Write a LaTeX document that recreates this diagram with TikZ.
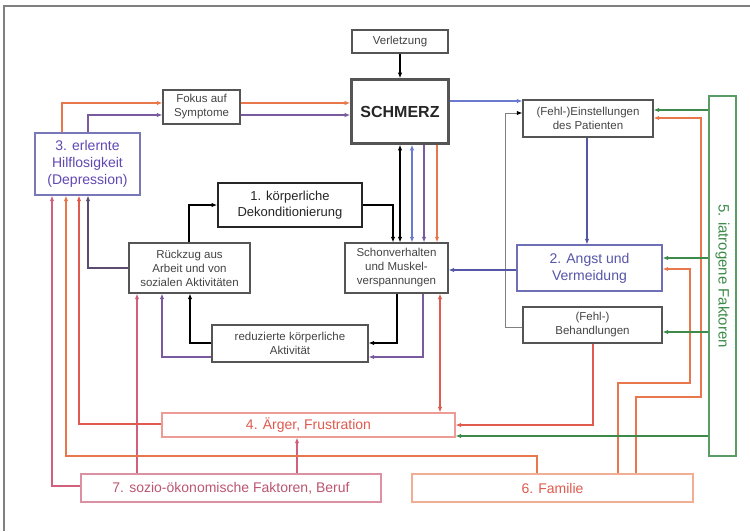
\documentclass[tikz,border=0pt]{standalone}
\usepackage{fontspec}
\setmainfont{Liberation Sans}
\usetikzlibrary{arrows.meta,calc}
\definecolor{cOr}{HTML}{E8784C}
\definecolor{cRd}{HTML}{E05A4E}
\definecolor{cPk}{HTML}{D0607C}
\definecolor{cPu}{HTML}{7A5A9E}
\definecolor{cBl}{HTML}{6A7AD0}
\definecolor{cBl2}{HTML}{5656A8}
\definecolor{cDk}{HTML}{5A4C70}
\definecolor{cGn}{HTML}{3D8A4A}
\definecolor{cBox}{HTML}{555555}
\definecolor{cTxt}{HTML}{444444}
\newcommand\myfs{\fontsize{11.5}{14}\selectfont}
\newcommand\myfb{\fontsize{14}{17}\selectfont}
\begin{document}
\begin{tikzpicture}[x=1pt,y=-1pt,
  >={Latex[length=5.5pt,width=4.5pt]},
  line width=1.2pt,
  bx/.style={draw=cBox, fill=white, line width=1.2pt, align=center, inner sep=1pt, text=cTxt, font=\myfs},
  nbx/.style={bx, font=\myfb}]
\useasboundingbox (0,0) rectangle (750,531);
\fill[white] (0,0) rectangle (750,531);
\draw[color=gray, line width=1.6pt] (4,531) -- (4,6) -- (750,6);

% nodes
\node[bx, minimum width=96pt, minimum height=23pt] (verl) at (400,41.5) {Verletzung};
\node[bx, draw=cBox, line width=2.6pt, minimum width=97pt, minimum height=64pt, text=black!85, font=\fontsize{16}{18}\selectfont\bfseries] (schm) at (400,111.5) {SCHMERZ};
\node[bx, minimum width=77pt, minimum height=34pt] (fokus) at (201.5,107) {Fokus auf\\Symptome};
\node[nbx, draw=cBl2!80, text=cPu!80!blue, minimum width=105pt, minimum height=62pt] (hilf) at (87.5,164) {3. erlernte\\Hilflosigkeit\\(Depression)};
\node[bx, draw=black!85, line width=1.8pt, text=black!85, font=\fontsize{13}{16}\selectfont, minimum width=144pt, minimum height=44pt] (dekon) at (290,205) {1. körperliche\\Dekonditionierung};
\node[bx, minimum width=121pt, minimum height=50pt] (rueck) at (189.5,268) {Rückzug aus\\Arbeit und von\\sozialen Aktivitäten};
\node[bx, minimum width=103pt, minimum height=50pt] (schon) at (396.5,268) {Schonverhalten\\und Muskel-\\verspannungen};
\node[bx, minimum width=156pt, minimum height=37pt] (redu) at (290,343.5) {reduzierte körperliche\\Aktivität};
\node[bx, minimum width=130pt, minimum height=37pt] (einst) at (588,118.5) {(Fehl-)Einstellungen\\des Patienten};
\node[nbx, draw=cBl2!85, text=cBl2, minimum width=145pt, minimum height=46pt] (angst) at (589.5,268) {2. Angst und\\Vermeidung};
\node[bx, minimum width=139pt, minimum height=36pt] (behand) at (592.5,325) {(Fehl-)\\Behandlungen};
\node[nbx, draw=cGn!85, text=cGn, minimum width=27pt, minimum height=360pt] (iatro) at (722.5,276) {};
\node[text=cGn, font=\fontsize{15}{17}\selectfont, rotate=-90] (iatrotxt) at (iatro.center) {5. iatrogene Faktoren};
\node[nbx, draw=cRd!60, text=cRd, minimum width=293pt, minimum height=24pt] (aerger) at (308.5,425) {4. Ärger, Frustration};
\node[nbx, draw=cPk!70, text=cPk!90!black, minimum width=300pt, minimum height=28pt] (sozio) at (231,488) {7. sozio-ökonomische Faktoren, Beruf};
\node[nbx, draw=cOr!60, text=cRd, minimum width=281pt, minimum height=28pt] (famil) at (552.5,488) {6. Familie};

% connectors
\draw[->, black] (verl) -- (schm);
\draw[->, cOr] (hilf.north -| 62,0) |- (fokus.west |- 0,103);
\draw[->, cPu] (hilf.north -| 88,0) |- (fokus.west |- 0,115);
\draw[->, cOr] (fokus.east |- 0,103) -- (schm.west |- 0,103);
\draw[->, cPu] (fokus.east |- 0,115) -- (schm.west |- 0,115);
\draw[->, cBl] (schm.east |- 0,101) -- (einst.west |- 0,101);
\draw[color=gray, line width=1pt, -{Latex[length=5.5pt,width=4.5pt,color=black]}] (behand.west |- 0,327) -- (505,327) |- (einst.west |- 0,113);
\draw[->, cBl2] (einst.south -| 587,0) -- (angst.north -| 587,0);
\draw[->, cBl2] (angst.west |- 0,270) -- (schon.east |- 0,270);
\draw[<->, black] (schm.south -| 400,0) -- (schon.north -| 400,0);
\draw[->, black] (dekon.east) -| (schon.north -| 393,0);
\draw[<->, cBl] (schm.south -| 412,0) -- (schon.north -| 412,0);
\draw[->, cPu] (schm.south -| 424,0) -- (schon.north -| 424,0);
\draw[->, cOr] (schm.south -| 437,0) -- (schon.north -| 437,0);
\draw[->, black] (rueck.north -| 189,0) |- (dekon.west);
\draw[->, cDk] (rueck.west) -| (hilf.south -| 88,0);
\draw[->, black] (schon.south -| 397,0) |- (redu.east |- 0,343);
\draw[->, cPu] (schon.south -| 423,0) |- (redu.east |- 0,357);
\draw[->, black] (redu.west |- 0,343) -| (rueck.south -| 190,0);
\draw[->, cPu] (redu.west |- 0,357) -| (rueck.south -| 162,0);
\draw[->, cPk] (sozio.north -| 137,0) -- (rueck.south -| 137,0);
\draw[<->, cRd] (schon.south -| 440,0) -- (aerger.north -| 440,0);
\draw[->, cPk] (sozio.north -| 297,0) -- (aerger.south -| 297,0);
\draw[->, cRd] (behand.south -| 593,0) |- (aerger.east |- 0,425);
\draw[->, cOr] (famil.north -| 618,0) -- (618,383) -- (690,383) |- (angst.east |- 0,269);
\draw[->, cOr] (famil.north -| 636,0) -- (636,397) -- (701,397) |- (einst.east |- 0,118);
\draw[->, cOr] (famil.north -| 537,0) |- (66,456) -- (hilf.south -| 66,0);
\draw[->, cRd] (aerger.west |- 0,424) -| (hilf.south -| 79,0);
\draw[->, cPk] (sozio.west |- 0,486) -| (hilf.south -| 52,0);
\draw[->, cGn] (iatro.west |- 0,110) -- (einst.east |- 0,110);
\draw[->, cGn] (iatro.west |- 0,258) -- (angst.east |- 0,258);
\draw[->, cGn] (iatro.west |- 0,332) -- (behand.east |- 0,332);
\draw[->, cGn] (iatro.west |- 0,436) -- (aerger.east |- 0,436);
\end{tikzpicture}
\end{document}
